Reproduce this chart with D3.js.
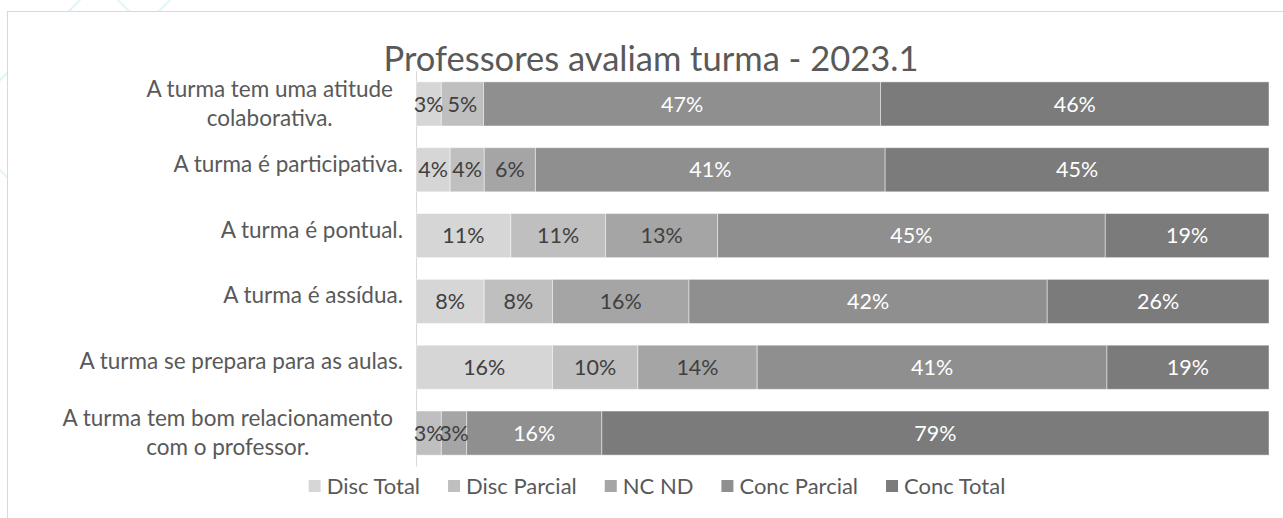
<html>
<head>
<meta charset="utf-8">
<script src="https://cdn.jsdelivr.net/npm/d3@7"></script>
<style>
  body { margin: 0; background: #fff; }
  text { font-family: Lato, "Open Sans", sans-serif; }
</style>
</head>
<body>
<svg id="chart" width="1283" height="518"></svg>
<script>
  // categories (\n = line break in the axis label)
  var categories = [
    "A turma tem uma atitude\ncolaborativa.",
    "A turma é participativa.",
    "A turma é pontual.",
    "A turma é assídua.",
    "A turma se prepara para as aulas.",
    "A turma tem bom relacionamento\ncom o professor."
  ];
  var seriesNames = ["Disc Total", "Disc Parcial", "NC ND", "Conc Parcial", "Conc Total"];
  var discTotal   = [3, 4, 11, 8, 16, 0];
  var discParcial = [5, 4, 11, 8, 10, 3];
  var ncNd        = [0, 6, 13, 16, 14, 3];
  var concParcial = [47, 41, 45, 42, 41, 16];
  var concTotal   = [46, 45, 19, 26, 19, 79];
  var titleText = "Professores avaliam turma - 2023.1";

  var colors = ["#d6d6d6", "#bfbfbf", "#a5a5a5", "#8f8f8f", "#7b7b7b"];
  var labelColors = ["#404040", "#404040", "#404040", "#ffffff", "#ffffff"];

  var svg = d3.select("#chart");

  // faint background pattern behind the chart frame
  var deco = svg.append("g").attr("stroke", "#e2f4f6").attr("stroke-width", 2).attr("fill", "none");
  deco.append("line").attr("x1", -10).attr("y1", 90).attr("x2", 90).attr("y2", -10);
  deco.append("line").attr("x1", 108).attr("y1", -10).attr("x2", 200).attr("y2", 82);
  deco.append("line").attr("x1", 140).attr("y1", 30).attr("x2", 180).attr("y2", -10);
  deco.append("line").attr("x1", -10).attr("y1", 160).attr("x2", 60).attr("y2", 230);

  // chart frame
  svg.append("rect")
    .attr("x", 7.5).attr("y", 11.5)
    .attr("width", 1300).attr("height", 520)
    .attr("fill", "#fff").attr("stroke", "#d9d9d9");

  var rows = categories.map(function (c, i) {
    return {
      cat: c,
      "Disc Total": discTotal[i],
      "Disc Parcial": discParcial[i],
      "NC ND": ncNd[i],
      "Conc Parcial": concParcial[i],
      "Conc Total": concTotal[i]
    };
  });

  var stack = d3.stack().keys(seriesNames).offset(d3.stackOffsetExpand);
  var series = stack(rows);

  var x = d3.scaleLinear().domain([0, 1]).range([416, 1269]);
  var y = d3.scaleBand().domain(categories).range([71, 466])
    .paddingInner(0.33).paddingOuter(0.165);

  // title
  svg.append("text")
    .attr("x", 651).attr("y", 71)
    .attr("text-anchor", "middle")
    .attr("font-size", 34.5)
    .attr("fill", "#595959")
    .text(titleText);

  // vertical axis
  var yAxis = svg.append("g")
    .attr("transform", "translate(416,0)")
    .call(d3.axisLeft(y).tickSize(0).tickPadding(13));
  yAxis.select(".domain").attr("stroke", "#d9d9d9");
  yAxis.selectAll(".tick text")
    .attr("font-size", 22.5)
    .attr("font-family", "Lato, sans-serif")
    .attr("fill", "#595959")
    .each(function (d) {
      var t = d3.select(this);
      var lines = d.split("\n");
      t.text(null).attr("dy", null);
      if (lines.length === 1) {
        t.attr("y", 2).text(lines[0]);
        return;
      }
      var spans = lines.map(function (l, k) {
        return t.append("tspan").attr("x", 0).attr("y", -7 + k * 29).text(l);
      });
      var maxW = d3.max(spans, function (s) { return s.node().getComputedTextLength(); });
      t.attr("text-anchor", "middle");
      spans.forEach(function (s) { s.attr("x", -23 - maxW / 2); });
    });

  // bars
  var layer = svg.selectAll("g.layer")
    .data(series)
    .enter().append("g")
    .attr("class", "layer")
    .attr("fill", function (d, i) { return colors[i]; });

  layer.selectAll("rect")
    .data(function (d) { return d; })
    .enter().append("rect")
    .attr("x", function (d) { return x(d[0]); })
    .attr("y", function (d) { return y(d.data.cat); })
    .attr("width", function (d) { return x(d[1]) - x(d[0]); })
    .attr("height", y.bandwidth())
    .attr("stroke", "#ffffff")
    .attr("stroke-opacity", 0.45)
    .attr("stroke-width", 1);

  // data labels
  series.forEach(function (s, i) {
    svg.append("g").selectAll("text")
      .data(s.filter(function (d) { return d.data[s.key] > 0; }))
      .enter().append("text")
      .attr("x", function (d) { return (x(d[0]) + x(d[1])) / 2; })
      .attr("y", function (d) { return y(d.data.cat) + y.bandwidth() / 2; })
      .attr("dy", "0.36em")
      .attr("text-anchor", "middle")
      .attr("font-size", 21.5)
      .attr("fill", labelColors[i])
      .text(function (d) { return d.data[s.key] + "%"; });
  });

  // legend
  var legend = svg.append("g").attr("class", "legend");
  var items = legend.selectAll("g")
    .data(seriesNames)
    .enter().append("g");
  items.append("rect")
    .attr("width", 12).attr("height", 12)
    .attr("y", -6)
    .attr("fill", function (d, i) { return colors[i]; });
  items.append("text")
    .attr("x", 18)
    .attr("dy", "0.36em")
    .attr("font-size", 22)
    .attr("fill", "#595959")
    .text(function (d) { return d; });
  var pos = 0;
  items.each(function () {
    var g = d3.select(this);
    g.attr("transform", "translate(" + pos + ",0)");
    pos += 18 + g.select("text").node().getComputedTextLength() + 28;
  });
  var total = pos - 28;
  legend.attr("transform", "translate(" + (657 - total / 2) + ",486)");
</script>
</body>
</html>
